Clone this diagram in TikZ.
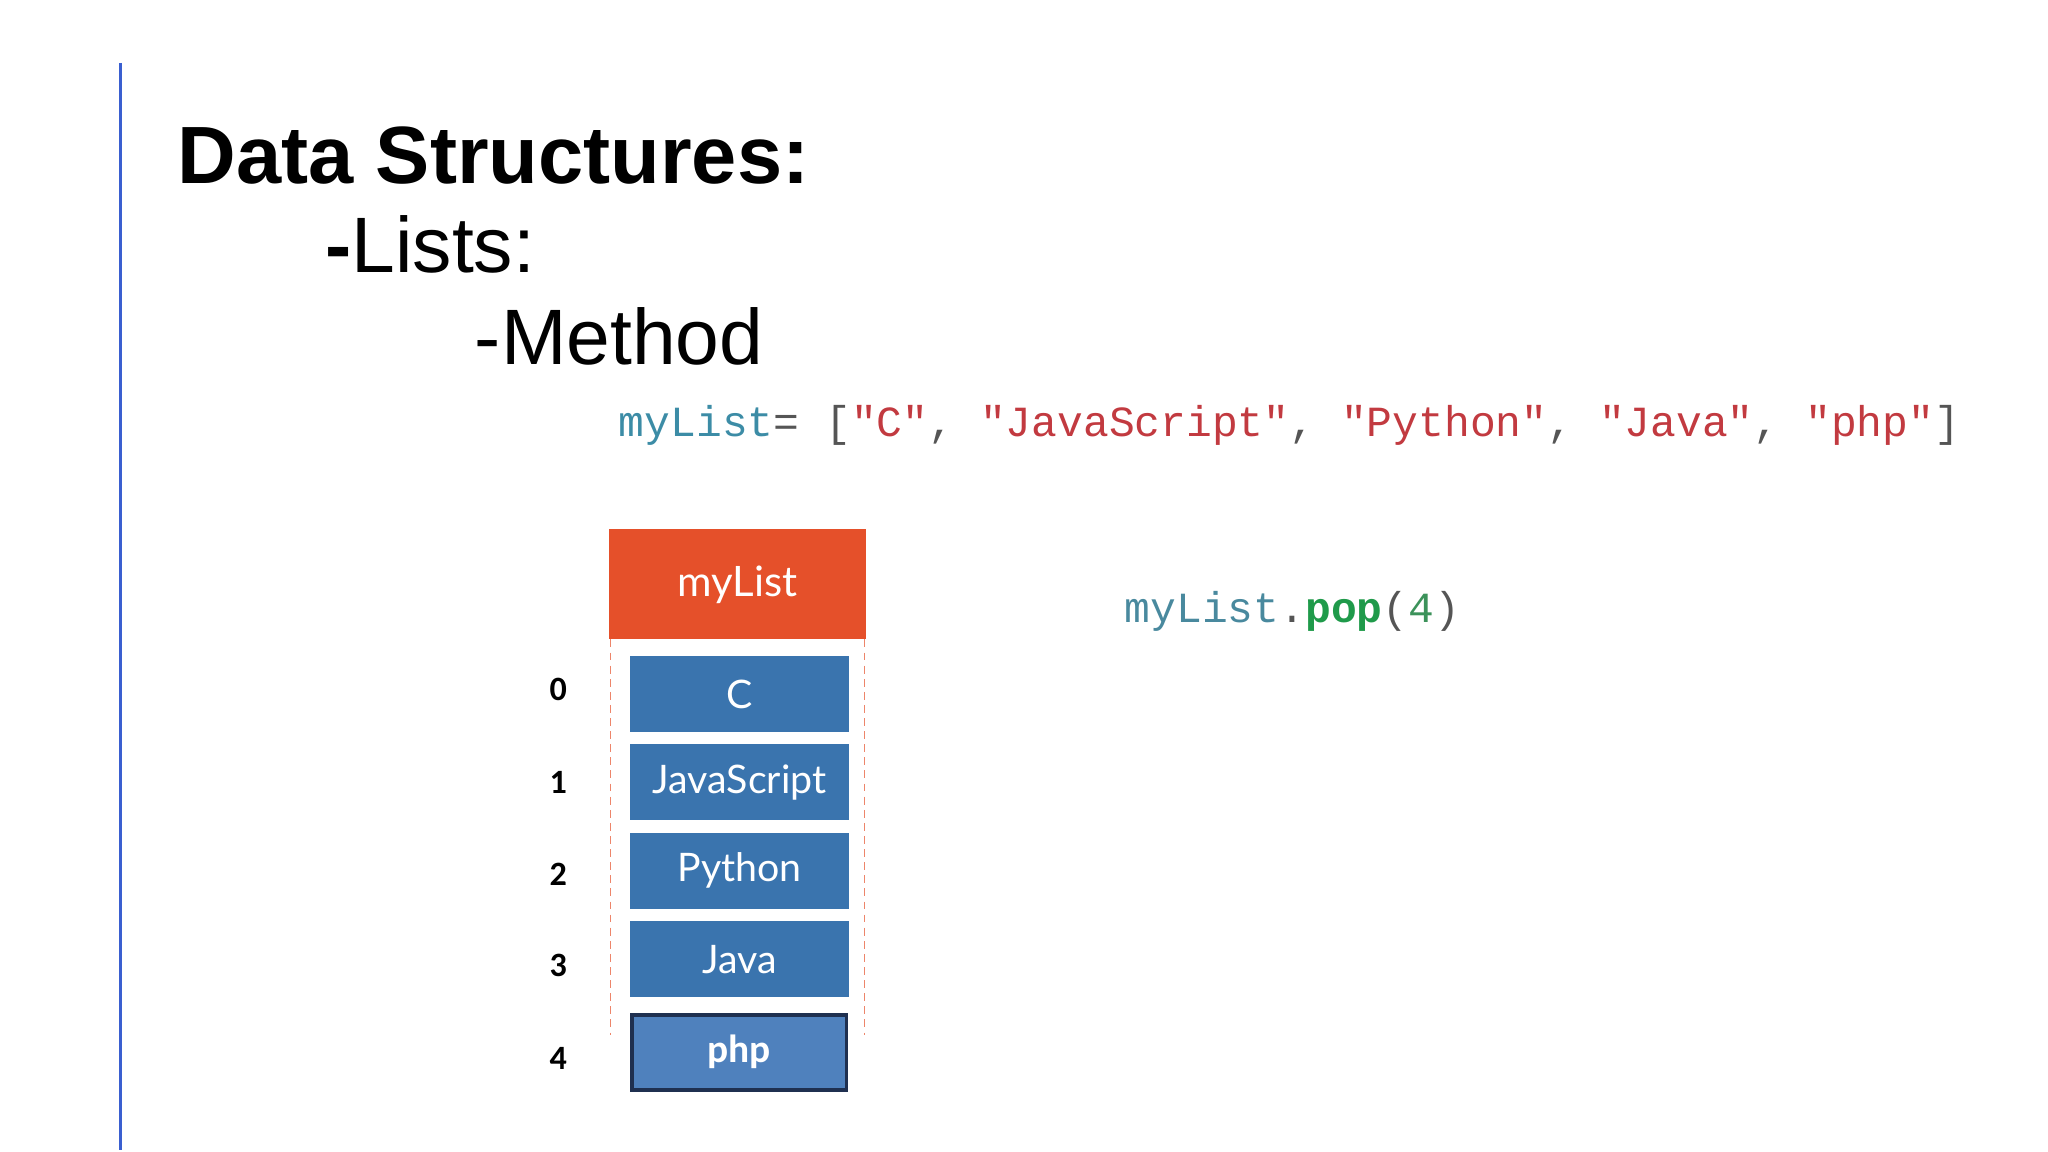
\documentclass[tikz,border=0pt]{standalone}
\usepackage{fontspec}
\setmainfont{Liberation Sans}
\newfontfamily\boxfont{Lato}
\newfontfamily\idxfont{Carlito}
\newfontfamily\codefont{Liberation Mono}
\definecolor{hdr}{HTML}{E5502A}
\definecolor{cell}{HTML}{3A74AE}
\definecolor{phpc}{HTML}{4F81BD}
\definecolor{phpb}{HTML}{1F3050}
\definecolor{teal}{HTML}{3C8CA6}
\definecolor{strc}{HTML}{C23A40}
\definecolor{punc}{HTML}{555555}
\definecolor{grn}{HTML}{1F9A4A}
\definecolor{vline}{HTML}{3A5FD0}
\begin{document}
\begin{tikzpicture}[x=0.5pt,y=-0.5pt,
  cellbox/.style={fill=cell,draw=none,minimum width=83.5pt,minimum height=29pt,inner sep=0pt,text=white,font=\boxfont\fontsize{15}{15}\selectfont},
  idx/.style={font=\idxfont\bfseries\fontsize{13}{13}\selectfont,anchor=center}]
\useasboundingbox (0,0) rectangle (1563,879);
\draw[vline,line width=1pt] (92,48) coordinate (v1) -- (92,878) coordinate (v2);
\node[anchor=base west,inner sep=0pt,font=\bfseries\fontsize{31}{31}\selectfont] (t1) at (135,140) {Data Structures:};
\node[anchor=base west,inner sep=0pt,font=\fontsize{30}{30}\selectfont] (t2) at (248,208) {\textbf{-}Lists:};
\node[anchor=base west,inner sep=0pt,font=\fontsize{30}{30}\selectfont] (t3) at (362,278) {-Method};
\node[anchor=base west,inner sep=0pt,font=\codefont\fontsize{16.4}{16.4}\selectfont] (code) at (472,333)
 {\textcolor{teal}{myList}\textcolor{punc}{ = [}\textcolor{strc}{"C"}\textcolor{punc}{, }\textcolor{strc}{"JavaScript"}\textcolor{punc}{, }\textcolor{strc}{"Python"}\textcolor{punc}{, }\textcolor{strc}{"Java"}\textcolor{punc}{, }\textcolor{strc}{"php"}\textcolor{punc}{]}};
\node[fill=hdr,minimum width=98pt,minimum height=42pt,inner sep=0pt,text=white,font=\boxfont\fontsize{16}{16}\selectfont] (hdr) at (563,446) {myList};
\draw[hdr!70,densely dashed,line width=0.5pt] (466,488) coordinate (d1) -- (466,790) coordinate (d2);
\draw[hdr!70,densely dashed,line width=0.5pt] (660,488) coordinate (d3) -- (660,790) coordinate (d4);
\node[cellbox] (c0) at (564.5,530) {C};
\node[cellbox] (c1) at (564.5,597) {JavaScript};
\node[cellbox] (c2) at (564.5,664.5) {Python};
\node[cellbox] (c3) at (564.5,732) {Java};
\node[fill=phpc,draw=phpb,line width=1.5pt,minimum width=82pt,minimum height=28.5pt,inner sep=0pt,text=white,font=\idxfont\bfseries\fontsize{15}{15}\selectfont] (c4) at (564,803) {php};
\node[idx] (i0) at (426,526) {0};
\node[idx] (i1) at (426,597) {1};
\node[idx] (i2) at (426,667) {2};
\node[idx] (i3) at (426,737) {3};
\node[idx] (i4) at (426,808) {4};
\node[anchor=base west,inner sep=0pt,font=\codefont\fontsize{16.4}{16.4}\selectfont] (pop) at (858,475)
 {\textcolor{teal!80!gray}{myList}\textcolor{punc}{.}\textcolor{grn}{\bfseries pop}\textcolor{punc}{(}\textcolor{grn!70!gray}{4}\textcolor{punc}{)}};
\end{tikzpicture}
\end{document}
